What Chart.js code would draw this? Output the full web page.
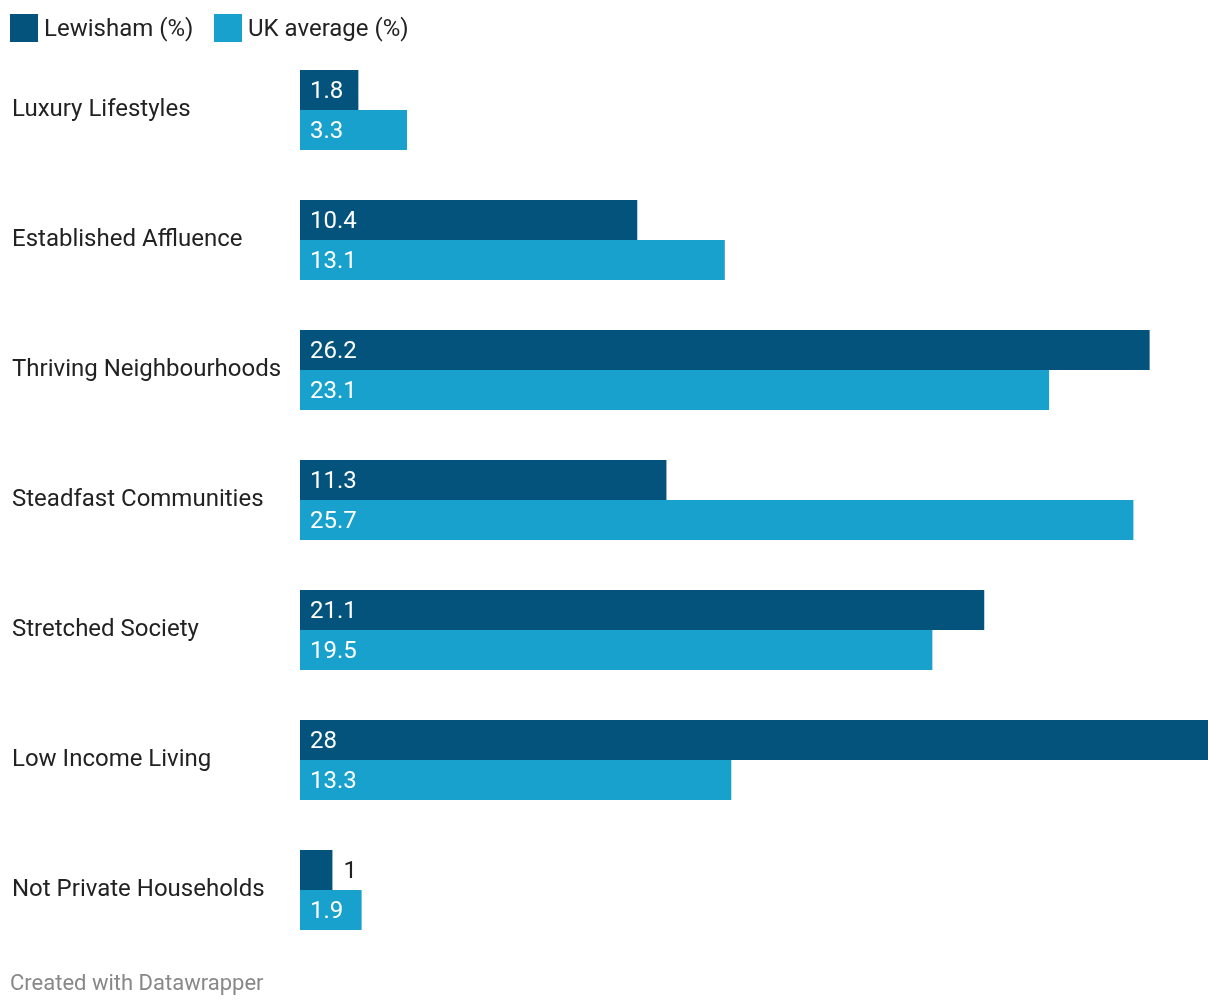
<!DOCTYPE html>
<html>
<head>
<meta charset="utf-8">
<script src="https://cdn.jsdelivr.net/npm/chart.js@4/dist/chart.umd.min.js"></script>
<style>
  html, body { margin: 0; padding: 0; background: #fff; }
  body { width: 1220px; height: 1006px; position: relative; overflow: hidden; font-family: Roboto, sans-serif; }
  #wrap { position: absolute; left: 0; top: 0; width: 1220px; height: 1006px; }
  .box { position: absolute; top: 14px; width: 28px; height: 28px; }
  .leg { position: absolute; top: 13px; font-size: 24px; line-height: 30px; color: #222; }
  #footer { position: absolute; left: 10px; top: 970px; font-size: 22px; color: #888; }
</style>
</head>
<body>
<div id="wrap"><canvas id="chart"></canvas></div>
<div class="box" style="left:10px;background:#03537d"></div>
<div class="leg" style="left:44px">Lewisham (%)</div>
<div class="box" style="left:214px;background:#18a1cd"></div>
<div class="leg" style="left:248px">UK average (%)</div>
<div id="footer">Created with Datawrapper</div>
<script>
const categories = ['Luxury Lifestyles', 'Established Affluence', 'Thriving Neighbourhoods',
    'Steadfast Communities', 'Stretched Society', 'Low Income Living', 'Not Private Households'];
const lewisham = [1.8, 10.4, 26.2, 11.3, 21.1, 28, 1];
const ukAverage = [3.3, 13.1, 23.1, 25.7, 19.5, 13.3, 1.9];

// value labels inside the bar, or just past its end if it does not fit
const valueLabels = {
    id: 'valueLabels',
    afterDatasetsDraw(chart) {
        const ctx = chart.ctx;
        ctx.save();
        ctx.font = '24px Roboto';
        ctx.textBaseline = 'middle';
        ctx.textAlign = 'left';
        chart.data.datasets.forEach((ds, i) => {
            chart.getDatasetMeta(i).data.forEach((bar, j) => {
                const txt = String(ds.data[j]);
                const w = ctx.measureText(txt).width;
                const left = bar.base;
                const right = bar.x;
                if (w + 24 <= right - left) {
                    ctx.fillStyle = '#ffffff';
                    ctx.fillText(txt, left + 10, bar.y + 2);
                } else {
                    ctx.fillStyle = '#222222';
                    ctx.fillText(txt, right + 11, bar.y + 2);
                }
            });
        });
        ctx.restore();
    }
};

new Chart(document.getElementById('chart'), {
    type: 'bar',
    data: {
        labels: categories,
        datasets: [
            { label: 'Lewisham (%)', data: lewisham, backgroundColor: '#03537d' },
            { label: 'UK average (%)', data: ukAverage, backgroundColor: '#18a1cd' }
        ]
    },
    options: {
        indexAxis: 'y',
        responsive: true,
        maintainAspectRatio: false,
        animation: false,
        datasets: { bar: { categoryPercentage: 80 / 130, barPercentage: 1.0, borderWidth: 0 } },
        layout: { padding: { left: 12, right: 12, top: 45, bottom: 51 } },
        plugins: { legend: { display: false }, tooltip: { enabled: false } },
        scales: {
            x: { display: false, min: 0, max: 28 },
            y: {
                grid: { display: false, drawTicks: false },
                border: { display: false },
                afterFit(axis) { axis.width = 288; },
                ticks: {
                    crossAlign: 'far',
                    padding: 0,
                    color: '#222',
                    font: { family: 'Roboto', size: 24 }
                }
            }
        }
    },
    plugins: [valueLabels]
});
</script>
</body>
</html>
